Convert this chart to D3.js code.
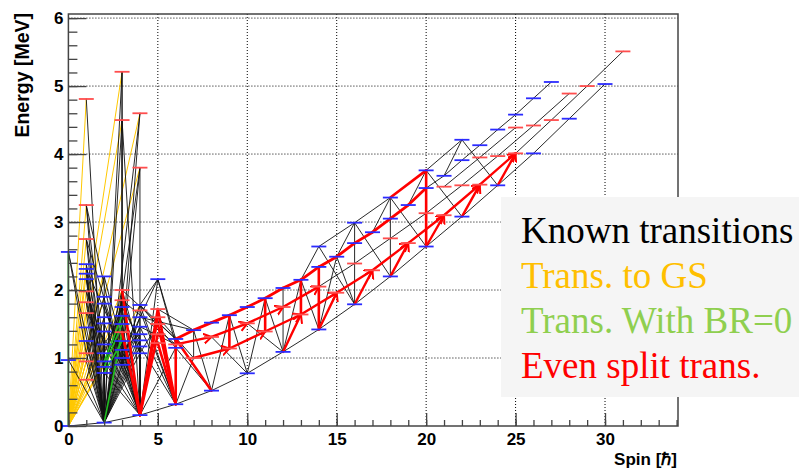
<!DOCTYPE html>
<html>
<head>
<meta charset="utf-8">
<script src="https://cdn.jsdelivr.net/npm/d3@7"></script>
<style>
  body { margin: 0; background: #fff; }
  svg { display: block; }
</style>
</head>
<body>
<svg id="chart" width="799" height="468"></svg>
<script>
// ---------- data ----------
const spinTicks = [0, 5, 10, 15, 20, 25, 30];
const energyTicks = [0, 1, 2, 3, 4, 5, 6];
const legendLabels = ['Known transitions', 'Trans. to GS', 'Trans. With BR=0', 'Even split trans.'];

// rotational bands, [spin, energy in MeV]
const bandA = [[0, 0], [2, 0.05], [4, 0.16], [6, 0.32], [8, 0.52], [10, 0.775], [12, 1.09], [14, 1.42], [16, 1.79],
  [18, 2.2], [20, 2.64], [22, 3.08], [24, 3.54], [26, 4.01], [28, 4.52], [30, 5.03]];
const bandB = [[7, 1.0], [9, 1.14], [11, 1.39], [13, 1.64], [15, 1.96], [17, 2.29], [19, 2.69], [21, 3.1], [23, 3.55],
  [25, 4.01], [27, 4.5], [29, 5.0], [31, 5.51]];
const bandT = [[6, 1.28], [7, 1.41], [8, 1.52], [9, 1.63], [10, 1.75], [11, 1.88], [12, 2.03], [13, 2.15], [14, 2.34],
  [15, 2.49], [16, 2.69], [17, 2.85], [18, 3.05], [19, 3.25], [20, 3.5], [21, 3.68], [22, 3.91], [23, 4.13],
  [24, 4.36], [25, 4.58], [26, 4.82], [27, 5.06]];
const bandU = [[14, 2.64], [16, 2.99], [18, 3.36], [20, 3.76], [22, 4.21]];
const bandR = [[6, 1.2], [8, 1.31], [10, 1.51], [12, 1.75], [14, 2.05], [16, 2.39], [18, 2.76], [20, 3.13], [22, 3.54],
  [24, 3.97], [26, 4.42], [28, 4.89]];
const bandS = [[21, 3.52], [23, 3.95], [25, 4.39]];
// marker kind per band: b = known level, r = predicted level
const bandKinds = { A: 'b', B: 'r', T: 'b', U: 'b', R: 'r', S: 'r' };

// low spin levels, [spin, energy, kind]
const lowLevels = [
  [0, 0.97, 'b'], [0, 2.56, 'b'],
  [1, 4.81, 'r'], [1, 3.25, 'r'], [1, 2.75, 'r'], [1, 2.38, 'b'], [1, 2.31, 'b'], [1, 2.24, 'b'], [1, 2.16, 'b'],
  [1, 1.98, 'r'], [1, 1.82, 'r'], [1, 1.66, 'r'], [1, 1.45, 'b'], [1, 1.25, 'b'], [1, 1.07, 'r'], [1, 0.95, 'r'], [1, 0.68, 'r'],
  [2, 2.2, 'b'], [2, 1.9, 'b'], [2, 1.8, 'b'], [2, 1.6, 'b'], [2, 1.51, 'b'], [2, 1.39, 'b'], [2, 1.2, 'b'],
  [2, 1.07, 'b'], [2, 0.95, 'b'], [2, 0.87, 'b'], [2, 0.78, 'b'],
  [3, 5.21, 'r'], [3, 4.5, 'r'], [3, 2.0, 'r'], [3, 1.85, 'r'], [3, 1.75, 'b'], [3, 1.62, 'b'], [3, 1.5, 'b'],
  [3, 1.38, 'r'], [3, 1.25, 'b'], [3, 1.12, 'b'], [3, 1.0, 'b'], [3, 0.9, 'b'],
  [4, 4.6, 'r'], [4, 3.8, 'r'], [4, 1.78, 'b'], [4, 1.7, 'r'], [4, 1.6, 'b'], [4, 1.46, 'b'], [4, 1.35, 'b'],
  [4, 1.26, 'b'], [4, 1.17, 'b'], [4, 1.07, 'b'],
  [5, 2.16, 'b'], [5, 1.72, 'r'], [5, 1.6, 'r'], [5, 1.5, 'r'], [5, 1.35, 'r'], [5, 1.22, 'r'],
  [6, 1.15, 'b']
];

// transitions: [from level, to level]
const gsTrans = [
  'L1_481', 'L1_325', 'L1_275', 'L1_238', 'L1_224', 'L1_198', 'L1_166', 'L1_145',
  'L1_125', 'L1_95', 'L2_220', 'L2_190', 'L2_160', 'L2_139', 'L2_120',
  'L2_95', 'L3_521', 'L3_450', 'L3_200', 'L3_185', 'L3_162', 'L3_138',
  'L4_460', 'L4_380', 'L4_178'
].map(id => [id, 'A0']);

const knownTrans = [
  ['L1_481', 'A2'], ['L1_325', 'A2'], ['L1_275', 'A2'], ['L1_238', 'A2'], ['L1_231', 'A2'], ['L1_224', 'A2'],
  ['L1_216', 'A2'], ['L1_198', 'A2'], ['L1_182', 'A2'], ['L1_166', 'A2'], ['L1_145', 'A2'], ['L1_125', 'A2'],
  ['L1_107', 'A2'], ['L1_95', 'A2'], ['L1_68', 'A2'], ['L0_256', 'A2'], ['L0_97', 'A2'], ['L0_256', 'L1_107'],
  ['L1_325', 'L2_107'], ['L1_325', 'L3_90'], ['L1_275', 'L2_95'], ['L1_275', 'L3_100'], ['L1_238', 'L2_87'],
  ['L1_231', 'L3_112'], ['L1_216', 'L2_78'], ['L1_198', 'L2_120'], ['L1_182', 'L2_87'], ['L1_166', 'L3_90'],
  ['L2_220', 'L1_107'], ['L2_220', 'A4'], ['L2_190', 'L1_95'], ['L2_160', 'L1_68'], ['L2_180', 'L3_90'],
  ['L2_190', 'A2'], ['L2_180', 'A4'], ['L2_160', 'A2'], ['L2_151', 'A4'], ['L2_139', 'A2'], ['L2_120', 'A4'],
  ['L2_107', 'A2'], ['L2_95', 'A4'], ['L2_87', 'A2'], ['L2_78', 'A4'], ['L2_220', 'A2'], ['L2_151', 'A2'],
  ['L3_521', 'A2'], ['L3_521', 'L3_100'], ['L3_521', 'L3_90'], ['L3_450', 'A2'], ['L3_450', 'A4'],
  ['L3_450', 'L3_112'], ['L3_200', 'A2'], ['L3_185', 'A2'], ['L3_175', 'A2'], ['L3_175', 'A4'], ['L3_162', 'A2'],
  ['L3_150', 'A4'], ['L3_138', 'A2'], ['L3_125', 'A4'], ['L3_112', 'A2'], ['L3_100', 'A4'], ['L3_90', 'A2'],
  ['L3_150', 'A2'], ['L3_125', 'A2'], ['L3_100', 'A2'], ['L3_112', 'A4'], ['L3_90', 'A4'],
  ['L3_200', 'L2_87'], ['L3_185', 'L2_78'], ['L3_175', 'L2_107'], ['L3_162', 'L2_120'], ['L3_150', 'L2_95'],
  ['L3_200', 'L4_107'], ['L3_185', 'L4_117'], ['L3_175', 'L4_126'], ['L3_162', 'L4_107'],
  ['L4_460', 'A2'], ['L4_460', 'L3_112'], ['L4_380', 'A2'], ['L4_380', 'A4'], ['L4_380', 'L3_100'],
  ['L4_178', 'A2'], ['L4_178', 'A6'], ['L4_160', 'A2'], ['L4_160', 'A4'], ['L4_146', 'A2'], ['L4_146', 'A6'],
  ['L4_135', 'A4'], ['L4_126', 'A2'], ['L4_117', 'A6'], ['L4_107', 'A4'], ['L4_170', 'A6'], ['L4_135', 'A2'],
  ['L4_117', 'A2'], ['L4_107', 'A2'], ['L4_178', 'L3_90'], ['L4_160', 'L3_100'], ['L4_146', 'L3_90'],
  ['L4_135', 'L3_112'], ['L4_126', 'A4'], ['L4_117', 'A4'],
  ['L5_216', 'L4_160'], ['L5_216', 'T6'], ['L5_216', 'A4'], ['L5_216', 'L4_178'], ['L5_216', 'R6'],
  ['L4_178', 'T6'], ['L4_160', 'T7'], ['L3_200', 'T6'], ['L3_185', 'R6'], ['L4_146', 'R6'], ['L4_178', 'L6_115'],
  ['L5_172', 'T7'], ['L5_160', 'B7'], ['L6_115', 'A4'], ['L6_115', 'A8'], ['L5_150', 'L4_107'],
  ['A6', 'B7'], ['T7', 'B7'], ['T7', 'A8'], ['T9', 'A8'], ['T9', 'A10'], ['T11', 'A10'], ['T11', 'A12'],
  ['T12', 'A12'], ['T13', 'A12'], ['T13', 'A14'], ['T15', 'A14'], ['T15', 'A16'], ['R8', 'A10'], ['R10', 'A12'],
  ['U14', 'T13'], ['U14', 'A16'], ['U16', 'T15'], ['U16', 'A16'], ['U16', 'A18'], ['U18', 'T17'], ['U18', 'A18'],
  ['U18', 'A20'], ['U20', 'T19'], ['U20', 'A22'], ['U22', 'T21'], ['U22', 'A24']
];

const zeroBrTrans = [['L0_256', 'A0'], ['L3_150', 'L2_87'], ['L3_125', 'L2_78'], ['L3_162', 'L2_95'],
  ['L3_138', 'A2']];

const splitTrans = [
  ['L3_200', 'A4'], ['L3_138', 'A4'], ['L5_172', 'A4'], ['L5_160', 'A4'],
  ['L5_135', 'A4'], ['L5_172', 'A6'], ['L5_150', 'A6'], ['L5_122', 'A6'],
  ['T6', 'A6'], ['T6', 'A8'], ['T9', 'B9'], ['T11', 'B11'], ['T13', 'B13'], ['T14', 'A14'],
  ['U20', 'A20'], ['U18', 'U20']
];
const splitArrows = [['A12', 'B13'], ['A14', 'B15'], ['A16', 'B17'], ['A18', 'B19'], ['A20', 'B21'],
  ['A22', 'B23'], ['A24', 'B25']];
// red paths running along a band: [band, first spin, last spin, with arrows]
const splitChains = [['T', 6, 20, false], ['R', 6, 14, true], ['B', 7, 25, true]];

// ---------- setup ----------
const svg = d3.select('#chart');
const x = d3.scaleLinear().domain([0, 34.08]).range([68.4, 678]);
const y = d3.scaleLinear().domain([0, 6.06]).range([426, 14]);

const colors = { known: '#111', gs: '#ffc800', zero: '#1fbf1f', split: '#ff0000', lvlB: '#2b2bff', lvlR: '#ff4d4d' };
const serif = "'Liberation Serif', 'Times New Roman', serif";
const sans = "'Liberation Sans', Arial, Helvetica, sans-serif";

// level lookup
const levels = new Map();
const bands = { A: bandA, B: bandB, T: bandT, U: bandU, R: bandR, S: bandS };
Object.entries(bands).forEach(([name, pts]) => {
  pts.forEach(([s, e]) => levels.set(name + s, { spin: s, e: e, kind: bandKinds[name] }));
});
lowLevels.forEach(([s, e, k]) => levels.set(`L${s}_${Math.round(e * 100)}`, { spin: s, e: e, kind: k }));

function pairsAlong(name, from, to) {
  const pts = bands[name].filter(d => d[0] >= from && d[0] <= to);
  return d3.pairs(pts).map(([a, b]) => [name + a[0], name + b[0]]);
}

// in-band sequences (known)
let bandLinks = [];
Object.keys(bands).forEach(name => { bandLinks = bandLinks.concat(pairsAlong(name, -1, 99)); });

let chainPlain = [], chainArrow = [];
splitChains.forEach(([name, a, b, arrow]) => {
  (arrow ? chainArrow : chainPlain).push(...pairsAlong(name, a, b));
});

const defs = svg.append('defs');
defs.append('marker')
  .attr('id', 'arrow')
  .attr('markerUnits', 'userSpaceOnUse')
  .attr('markerWidth', 12).attr('markerHeight', 12)
  .attr('refX', 8).attr('refY', 5)
  .attr('orient', 'auto')
  .append('path')
  .attr('d', 'M0,0 L8,5 L0,10')
  .attr('fill', 'none')
  .attr('stroke', colors.split)
  .attr('stroke-width', 2);

// grid
const grid = svg.append('g');
grid.selectAll('.vg').data(spinTicks.filter(d => d > 0)).join('line')
  .attr('x1', d => x(d)).attr('x2', d => x(d))
  .attr('y1', y.range()[0]).attr('y2', y.range()[1])
  .attr('stroke', '#000').attr('stroke-width', 1).attr('stroke-dasharray', '1,2');
grid.selectAll('.hg').data(energyTicks.filter(d => d > 0)).join('line')
  .attr('x1', x.range()[0]).attr('x2', x.range()[1])
  .attr('y1', d => y(d)).attr('y2', d => y(d))
  .attr('stroke', '#000').attr('stroke-width', 1).attr('stroke-dasharray', '1,2');

// transitions
function drawLinks(links, color, width, arrow) {
  const sel = svg.append('g').selectAll('line').data(links.filter(l => levels.has(l[0]) && levels.has(l[1])))
    .join('line')
    .attr('x1', d => x(levels.get(d[0]).spin)).attr('y1', d => y(levels.get(d[0]).e))
    .attr('x2', d => x(levels.get(d[1]).spin)).attr('y2', d => y(levels.get(d[1]).e))
    .attr('stroke', color).attr('stroke-width', width).attr('stroke-linecap', 'round');
  if (arrow) sel.attr('marker-end', 'url(#arrow)');
  return sel;
}

drawLinks(gsTrans, colors.gs, 1);
drawLinks(bandLinks, colors.known, 0.9);
drawLinks(knownTrans, colors.known, 0.9);
drawLinks(zeroBrTrans, colors.zero, 1.6);
drawLinks(splitTrans, colors.split, 2.6);
drawLinks(chainPlain, colors.split, 2.8);
drawLinks(chainArrow, colors.split, 2.4, true);
drawLinks(splitArrows, colors.split, 2.4, true);

// level markers
svg.append('g').selectAll('line').data(Array.from(levels.values())).join('line')
  .attr('x1', d => x(d.spin) - 7.5).attr('x2', d => x(d.spin) + 7.5)
  .attr('y1', d => y(d.e)).attr('y2', d => y(d.e))
  .attr('stroke', d => d.kind === 'b' ? colors.lvlB : colors.lvlR)
  .attr('stroke-width', 1.8);

// frame and axes
svg.append('rect')
  .attr('x', x.range()[0]).attr('y', y.range()[1])
  .attr('width', x.range()[1] - x.range()[0]).attr('height', y.range()[0] - y.range()[1])
  .attr('fill', 'none').attr('stroke', '#444').attr('stroke-width', 1.5);

const fmt = d3.format('d');
const xMinor = svg.append('g').attr('transform', `translate(0,${y.range()[0]})`)
  .call(d3.axisBottom(x).tickValues(d3.range(0, 35, 1)).tickSize(-6).tickFormat(''));
const xMajor = svg.append('g').attr('transform', `translate(0,${y.range()[0]})`)
  .call(d3.axisBottom(x).tickValues(spinTicks).tickSize(-13).tickPadding(7).tickFormat(fmt));
const yMinor = svg.append('g').attr('transform', `translate(${x.range()[0]},0)`)
  .call(d3.axisLeft(y).tickValues(d3.range(0, 6.01, 0.2)).tickSize(-9).tickFormat(''));
const yMajor = svg.append('g').attr('transform', `translate(${x.range()[0]},0)`)
  .call(d3.axisLeft(y).tickValues(energyTicks).tickSize(-18).tickPadding(5).tickFormat(fmt));

[xMinor, xMajor, yMinor, yMajor].forEach(g => {
  g.select('.domain').remove();
  g.selectAll('.tick line').attr('stroke', '#444').attr('stroke-width', 1.3);
  g.selectAll('text').attr('fill', '#000').style('font-family', sans)
    .style('font-weight', 'bold').style('font-size', '17px');
});

// axis titles
svg.append('text')
  .attr('transform', 'translate(29,13) rotate(-90)')
  .attr('text-anchor', 'end')
  .style('font-family', sans).style('font-weight', 'bold').style('font-size', '19.5px')
  .text('Energy [MeV]');
svg.append('text')
  .attr('x', 677).attr('y', 465)
  .attr('text-anchor', 'end')
  .style('font-family', sans).style('font-weight', 'bold').style('font-size', '17px')
  .text('Spin [\u210F]');

// legend
const legendColors = ['#000', '#ffbf00', '#8fcf4f', '#ff0000'];
const leg = svg.append('g');
leg.append('rect').attr('x', 501).attr('y', 197).attr('width', 300).attr('height', 200).attr('fill', '#f5f5f5');
leg.selectAll('text').data(legendLabels).join('text')
  .attr('x', 521).attr('y', (d, i) => 243 + i * 44.9)
  .attr('fill', (d, i) => legendColors[i])
  .style('font-family', serif).style('font-size', '37px')
  .text(d => d);
</script>
</body>
</html>
